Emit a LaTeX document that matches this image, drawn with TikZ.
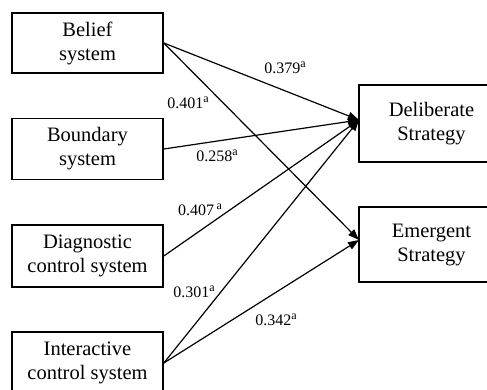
\documentclass[tikz,border=0pt]{standalone}
\usepackage{fontspec}
\setmainfont{Liberation Serif}
\usetikzlibrary{arrows.meta}
\newcommand{\supa}{\raisebox{0.85ex}{\fontsize{12}{12}\selectfont a}}
\begin{document}
\begin{tikzpicture}[x=1pt,y=-1pt,
  box/.style={draw, line width=1.6pt, align=center, inner sep=0pt,
    font=\fontsize{20.5}{24}\selectfont},
  lbl/.style={inner sep=0pt, font=\fontsize{16}{18}\selectfont},
  arr/.style={line width=1.2pt, -{Triangle[length=11pt,width=8pt]}}]
\useasboundingbox (0,0) rectangle (487,390);
\clip (0,0) rectangle (487,390);
\fill[white] (0,0) rectangle (487,390);
% source boxes
\node[box, minimum width=151pt, minimum height=60pt] (bel) at (87.5,43) {Belief\\system};
\node[box, minimum width=151pt, minimum height=61pt] (bou) at (87.5,149) {Boundary\\system};
\node[box, minimum width=151pt, minimum height=62pt] (dia) at (87.5,256) {Diagnostic\\control system};
\node[box, minimum width=151pt, minimum height=62pt] (int) at (87.5,363) {Interactive\\control system};
% target boxes
\node[box, minimum width=145pt, minimum height=77pt] (del) at (431.5,123.5) {Deliberate\\Strategy};
\node[box, minimum width=145pt, minimum height=75pt] (eme) at (431.5,244.5) {Emergent\\Strategy};
\coordinate (dt) at (359,120);
\coordinate (et) at (359,240);
% connectors
\draw[arr] (bel.east) -- (dt);
\draw[arr] (bel.east) -- (et);
\draw[arr] (bou.east) -- (dt);
\draw[arr] (dia.east) -- (dt);
\draw[arr] (int.east) -- (dt);
\draw[arr] (int.east) -- (et);
% labels
\node[lbl] (l1) at (285,68) {0.379\supa};
\node[lbl] (l2) at (188,103) {0.401\supa};
\node[lbl] (l3) at (217,156) {0.258\supa};
\node[lbl] (l4) at (200,210) {0.407\,\supa};
\node[lbl] (l5) at (194,292) {0.301\supa};
\node[lbl] (l6) at (276,320) {0.342\supa};
\end{tikzpicture}
\end{document}
